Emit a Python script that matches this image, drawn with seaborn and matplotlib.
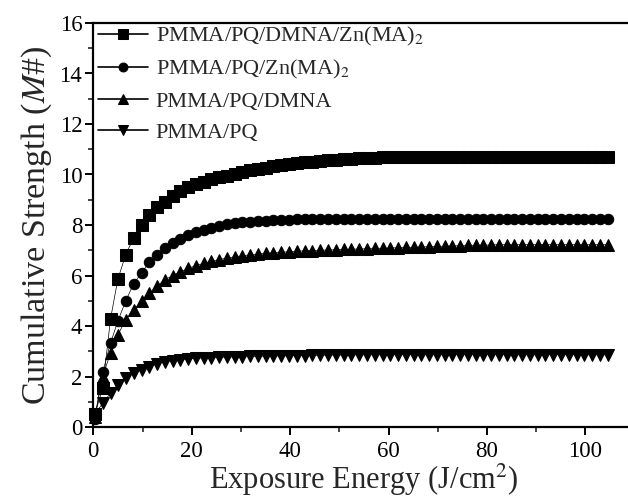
import matplotlib
matplotlib.use("Agg")
import matplotlib.pyplot as plt
import seaborn as sns
import pandas as pd

# ---- data ----
energy = [0.3, 1.9, 3.5, 5.0, 6.6, 8.2, 9.8, 11.4, 12.9, 14.5, 16.1, 17.7, 19.3, 20.8,
          22.4, 24.0, 25.6, 27.2, 28.7, 30.3, 31.9, 33.5, 35.1, 36.6, 38.2, 39.8, 41.4,
          43.0, 44.5, 46.1, 47.7, 49.3, 50.9, 52.4, 54.0, 55.6, 57.2, 58.8, 60.3, 61.9,
          63.5, 65.1, 66.7, 68.2, 69.8, 71.4, 73.0, 74.6, 76.1, 77.7, 79.3, 80.9, 82.5,
          84.0, 85.6, 87.2, 88.8, 90.4, 91.9, 93.5, 95.1, 96.7, 98.3, 99.8, 101.4, 103.0,
          104.6]

pmma_pq_dmna_zn = [0.5, 1.53, 4.28, 5.86, 6.83, 7.49, 8.0, 8.4, 8.71, 8.93, 9.14, 9.33, 9.5,
                   9.62, 9.72, 9.81, 9.89, 9.96, 10.03, 10.1, 10.16, 10.22, 10.27, 10.32,
                   10.36, 10.4, 10.44, 10.48, 10.51, 10.54, 10.57, 10.59, 10.61, 10.63,
                   10.65, 10.66, 10.67, 10.68, 10.69, 10.7, 10.7, 10.7, 10.7, 10.7, 10.7,
                   10.7, 10.7, 10.7, 10.7, 10.7, 10.7, 10.7, 10.7, 10.7, 10.7, 10.7, 10.7,
                   10.7, 10.7, 10.7, 10.7, 10.7, 10.7, 10.7, 10.7, 10.7, 10.7]

pmma_pq_zn = [0.3, 2.16, 3.32, 4.2, 5.0, 5.67, 6.1, 6.53, 6.83, 7.08, 7.28, 7.45, 7.6, 7.72,
              7.82, 7.9, 7.97, 8.02, 8.06, 8.1, 8.13, 8.15, 8.17, 8.19, 8.2, 8.21, 8.22,
              8.23, 8.24, 8.24, 8.24, 8.24, 8.24, 8.24, 8.24, 8.24, 8.24, 8.24, 8.24, 8.24,
              8.24, 8.24, 8.24, 8.24, 8.24, 8.24, 8.24, 8.24, 8.24, 8.24, 8.24, 8.24, 8.24,
              8.24, 8.24, 8.24, 8.24, 8.24, 8.24, 8.24, 8.24, 8.24, 8.24, 8.24, 8.24, 8.24,
              8.24]

pmma_pq_dmna = [0.4, 2.0, 2.93, 3.65, 4.25, 4.64, 4.98, 5.3, 5.58, 5.82, 6.0, 6.15, 6.28,
                6.39, 6.48, 6.56, 6.63, 6.69, 6.74, 6.78, 6.82, 6.85, 6.88, 6.9, 6.92, 6.94,
                6.96, 6.98, 6.99, 7.0, 7.01, 7.02, 7.03, 7.04, 7.05, 7.06, 7.07, 7.08, 7.09,
                7.1, 7.11, 7.12, 7.13, 7.14, 7.15, 7.16, 7.17, 7.18, 7.19, 7.2, 7.2, 7.21,
                7.22, 7.22, 7.22, 7.22, 7.22, 7.22, 7.22, 7.22, 7.22, 7.22, 7.22, 7.22, 7.22,
                7.22, 7.22]

pmma_pq = [0.5, 0.94, 1.34, 1.67, 1.93, 2.13, 2.26, 2.39, 2.5, 2.58, 2.63, 2.67, 2.7, 2.72,
           2.74, 2.75, 2.76, 2.77, 2.78, 2.79, 2.8, 2.8, 2.81, 2.81, 2.82, 2.82, 2.83, 2.83,
           2.84, 2.84, 2.85, 2.85, 2.85, 2.86, 2.86, 2.86, 2.87, 2.87, 2.87, 2.87, 2.87, 2.87,
           2.87, 2.87, 2.87, 2.87, 2.87, 2.87, 2.87, 2.87, 2.87, 2.87, 2.87, 2.87, 2.87, 2.87,
           2.87, 2.87, 2.87, 2.87, 2.87, 2.87, 2.87, 2.87, 2.87, 2.87, 2.87]

series_labels = ["PMMA/PQ/DMNA/Zn(MA)$_2$", "PMMA/PQ/Zn(MA)$_2$", "PMMA/PQ/DMNA", "PMMA/PQ"]
series_values = [pmma_pq_dmna_zn, pmma_pq_zn, pmma_pq_dmna, pmma_pq]
series_markers = ["s", "o", "^", "v"]
marker_sizes = [8, 7.5, 8, 8]

x_ticks = [0, 20, 40, 60, 80, 100]
y_ticks = [0, 2, 4, 6, 8, 10, 12, 14, 16]

# ---- style ----
sns.set_style("ticks")
plt.rcParams["font.family"] = ["Liberation Serif", "DejaVu Serif"]
plt.rcParams["mathtext.fontset"] = "stix"

fig = plt.figure(figsize=(6.28, 4.98), dpi=100)
W, H = 628, 498
left_px, right_px, top_px, bottom_px = 93.3, 634.5, 23, 427
ax = fig.add_axes([left_px / W, 1 - bottom_px / H, (right_px - left_px) / W, (bottom_px - top_px) / H])

for lab, vals, mk, ms in zip(series_labels, series_values, series_markers, marker_sizes):
    df = pd.DataFrame({"x": energy, "y": vals})
    sns.lineplot(data=df, x="x", y="y", ax=ax, color="black", linewidth=0.5,
                 marker=mk, markersize=ms, markeredgecolor="black", markerfacecolor="black",
                 label=lab, clip_on=False, zorder=3)

ax.set_xlim(0, 110)
ax.set_ylim(0, 16)
ax.set_xticks(x_ticks)
ax.set_yticks(y_ticks)
ax.set_xticks([10, 30, 50, 70, 90, 110], minor=True)
ax.set_yticks([1, 3, 5, 7, 9, 11, 13, 15], minor=True)
ax.tick_params(which="major", direction="out", length=6, width=1.4, labelsize=16.5, pad=2, colors="black")
ax.tick_params(axis="x", which="major", pad=4)
ax.tick_params(which="minor", direction="out", length=3.5, width=1.2)
for s in ["left", "bottom", "top"]:
    ax.spines[s].set_linewidth(1.6)
    ax.spines[s].set_color("black")
ax.spines["right"].set_visible(False)

ax.set_xlabel("Exposure Energy (J/cm$^2$)", fontsize=22, labelpad=0)
ax.set_ylabel("Cumulative Strength ($M$#)", fontsize=24.5, labelpad=4)

leg = ax.legend(loc="upper left", bbox_to_anchor=(0, 1.005), frameon=False, fontsize=16,
                handlelength=2.25, handletextpad=0.35, borderaxespad=0.1, borderpad=0.1,
                labelspacing=0.45, numpoints=1, markerscale=0.85)
for line in leg.get_lines():
    line.set_linewidth(1.2)

fig.savefig("out.png", dpi=100)
